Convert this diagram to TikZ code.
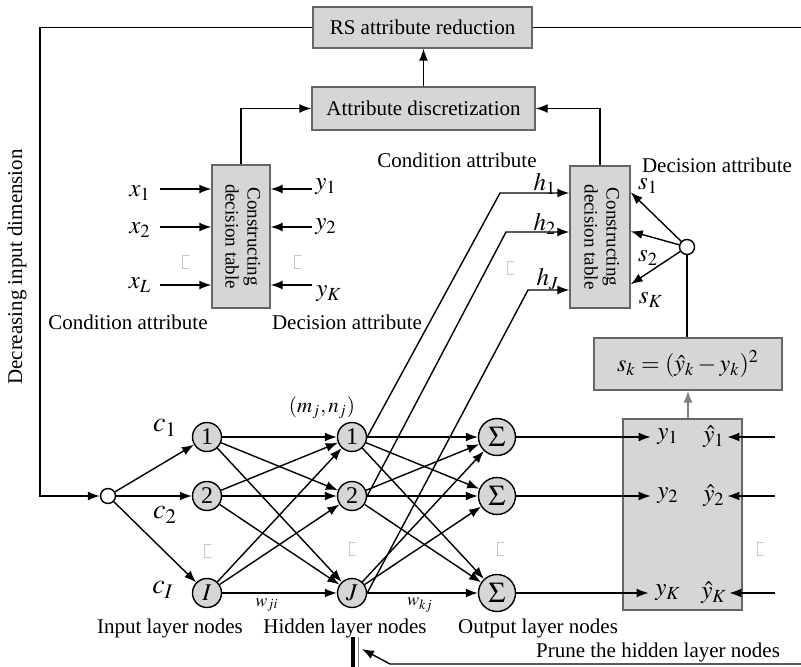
\documentclass[tikz,border=0pt]{standalone}
\usepackage{amsmath}
\usepackage{graphicx}
\usepackage{mathptmx}
\usepackage{fontspec}
\setmainfont{Liberation Serif}
\usetikzlibrary{positioning,calc,arrows.meta}
\definecolor{boxgray}{RGB}{214,214,214}
\tikzset{
  graybox/.style   = {draw=gray!80!black, fill=boxgray, inner sep=0pt},
  neuron/.style    = {circle,draw,fill=boxgray,minimum size=14.5pt,inner sep=0pt,font=\large},
  sumneuron/.style = {neuron, minimum size=18.5pt, font=\Large},
  junction/.style  = {circle,draw,fill=white,minimum size=7.5pt,inner sep=0pt},
  mlbl/.style      = {inner sep=1pt, font=\fontsize{12.5}{15}\selectfont},
  clbl/.style      = {inner sep=1pt, font=\fontsize{14}{16}\selectfont},
  wlbl/.style      = {inner sep=1pt, font=\small},
  >={Latex[length=6pt,width=4.5pt]}
}
\newcommand{\TableText}{%
  % rotated label of the decision table boxes
  \rotatebox{-90}{\fontsize{9.5}{11}\selectfont\begin{tabular}{@{}c@{}}Constructing\\decision table\end{tabular}}}
\newcommand{\Placeholder}[2]{%
  % empty glyph box standing for the missing dots
  \draw[gray!45,line width=0.5pt] (#1+4,#2-6) -- (#1-3,#2-6) -- (#1-3,#2+7) -- (#1+4,#2+7);}

\begin{document}
\begin{tikzpicture}[x=0.5pt,y=-0.5pt,line width=0.7pt,font=\fontsize{10.5}{12.6}\selectfont]
    \useasboundingbox (0,0) rectangle (801,667);

    % boxes
    \node[graybox,minimum width=109.5pt,minimum height=20.5pt] (rs)   at (422.5,27.5) {RS attribute reduction};
    \node[graybox,minimum width=111.5pt,minimum height=21.5pt] (disc) at (423.5,108.5) {Attribute discretization};
    \node[graybox,minimum width=29pt,minimum height=71.5pt]    (tblL) at (241,236.5) {\TableText};
    \node[graybox,minimum width=30pt,minimum height=71pt]      (tblR) at (600,237) {\TableText};
    \node[graybox,minimum width=94pt,minimum height=26pt,font=\large] (eq) at (688,364) {$s_k=(\hat{y}_k-y_k)^2$};
    \node[graybox,minimum width=59.5pt,minimum height=95.5pt]  (yb)   at (682.5,514.5) {};

    \node[junction] (jS) at (687,247) {};
    \node[junction] (jI) at (108,496) {};

    % network layers
    \foreach \nm/\yy/\tx in {1/437/1, 2/496/2, 3/593/$I$}
      \node[neuron] (in\nm) at (207,\yy) {\tx};
    \foreach \nm/\yy/\tx in {1/437/1, 2/496/2, 3/593/$J$}
      \node[neuron] (hid\nm) at (352,\yy) {\tx};
    \foreach \nm/\yy in {1/437, 2/496, 3/593}
      \node[sumneuron] (out\nm) at (497,\yy) {$\Sigma$};

    \foreach \a in {1,2,3} {
      \draw[->] (jI) -- (in\a);
      \foreach \b in {1,2,3} {
        \draw[->] (in\a) -- (hid\b);
        \draw[->] (hid\a) -- (out\b);
      }
    }

    % top part
    \coordinate (fbL) at (40,496);
    \coordinate (fbR) at (801,27.5);
    \draw[->] (rs.west) -| (fbL) -- (jI);
    \draw (rs.east) -- (fbR);
    \draw[->] (disc.north) -- (disc.north |- rs.south);
    \draw[->] (tblL.north) |- (disc.west);
    \draw[->] (tblR.north) |- (disc.east);

    \foreach \nm/\yy in {1/189, 2/227, 3/285} {
      \coordinate (xs\nm) at (160,\yy);
      \coordinate (ys\nm) at (312,\yy);
      \draw[->] (xs\nm) -- (xs\nm -| tblL.west);
      \draw[->] (ys\nm) -- (ys\nm -| tblL.east);
    }
    \node[mlbl] (xl1) at (140,193) {$x_1$};
    \node[mlbl] (xl2) at (140,230) {$x_2$};
    \node[mlbl] (xl3) at (140,285) {$x_L$};
    \node[mlbl] (yt1) at (326,187) {$y_1$};
    \node[mlbl] (yt2) at (326,227) {$y_2$};
    \node[mlbl] (yt3) at (329,294) {$y_K$};

    \foreach \nm/\xx/\yy in {1/500/193, 2/506/232, 3/528/290} {
      \coordinate (hc\nm) at (\xx,\yy);
      \draw[->] (hid\nm.east) -- (hc\nm) -- (hc\nm -| tblR.west);
    }
    \node[mlbl] (lh1) at (545,184) {$h_1$};
    \node[mlbl] (lh2) at (545,224) {$h_2$};
    \node[mlbl] (lh3) at (548,279) {$h_J$};

    \draw[->] (jS) -- ($(tblR.north east)+(0,27)$);
    \draw[->] (jS) -- ($(tblR.north east)+(0,66)$);
    \draw[->] (jS) -- ($(tblR.north east)+(0,119)$);
    \node[mlbl] (ls1) at (648,186) {$s_1$};
    \node[mlbl] (ls2) at (648,258) {$s_2$};
    \node[mlbl] (ls3) at (651,300) {$s_K$};

    \draw (jS) -- (jS |- eq.north);
    \draw[->,draw=gray] (eq.south |- yb.north) -- (eq.south);

    % outputs
    \foreach \nm/\yy/\sb in {1/437/1, 2/496/2, 3/593/K} {
      \node[mlbl] (yl\nm) at (668,\yy) {$y_\sb$};
      \node[mlbl] (yh\nm) at (714,\yy) {$\hat{y}_\sb$};
      \coordinate (yr\nm) at (775,\yy);
      \draw[->] (out\nm) -- ([xshift=-2pt]yl\nm.west);
      \draw[->] (yr\nm) -- (yh\nm.east);
    }

    \node[clbl] (lc1) at (165,428) {$c_1$};
    \node[clbl] (lc2) at (165,515) {$c_2$};
    \node[clbl] (lc3) at (163,590) {$c_I$};
    \node[inner sep=1pt] (lmn) at (322,408) {$(m_j,n_j)$};
    \node[wlbl] (lwji) at (267,605) {$w_{ji}$};
    \node[wlbl] (lwkj) at (420,605) {$w_{kj}$};

    % placeholders
    \foreach \xx/\yy in {207/550, 352/548, 500/548, 760/548, 185/262, 297/262, 510/268} {
      \Placeholder{\xx}{\yy}
    }

    % texts
    \node (lcondL) at (128,322) {Condition attribute};
    \node (ldecL)  at (347,322) {Decision attribute};
    \node (lcondR) at (457,160) {Condition attribute};
    \node (ldecR)  at (717,165) {Decision attribute};
    \node[rotate=90] (ldim) at (17,267) {Decreasing input dimension};
    \node (lin)    at (170,628) {Input layer nodes};
    \node (lhid)   at (345,628) {Hidden layer nodes};
    \node (lout)   at (538,628) {Output layer nodes};
    \node (lprune) at (658,652) {Prune the hidden layer nodes};

    % pruning
    \coordinate (pr0) at (801,664);
    \coordinate (pr1) at (390,664);
    \coordinate (prtip) at (362,649);
    \draw[->] (pr0) -- (pr1) -- (prtip);
    \draw[line width=2.2pt] (353,637) -- (353,667);
    \draw[thin,gray] (358,637) -- (358,667);
  \end{tikzpicture}
\end{document}
